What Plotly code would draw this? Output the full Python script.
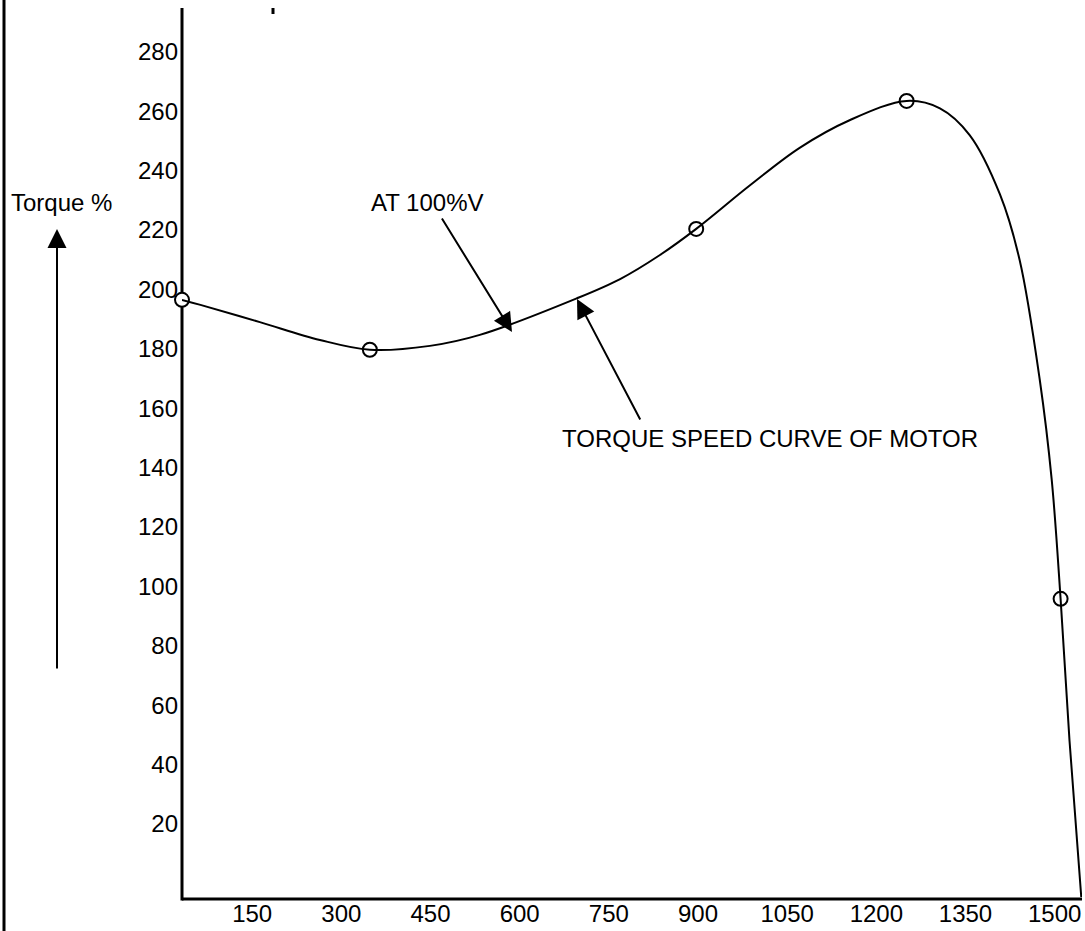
import plotly.graph_objects as go

# Curve trace (speed in RPM vs torque %)
speed = [32, 63, 163, 264, 348, 449, 533, 696, 769, 836, 897, 987, 1071, 1155,
         1251, 1307, 1357, 1408, 1441, 1475, 1495, 1510, 1525, 1545]
torque = [196.5, 194.8, 189.0, 183.0, 179.7, 181.0, 184.7, 197.0, 203.5, 211.6,
          220.4, 235.0, 247.7, 257.0, 263.5, 261.0, 252.0, 232.0, 210.0, 169.5,
          136.0, 95.8, 48.0, -5.3]

# Marked points
speed_pts = [32, 348, 897, 1251, 1510]
torque_pts = [196.5, 179.7, 220.4, 263.5, 95.8]

x_ticks = [150, 300, 450, 600, 750, 900, 1050, 1200, 1350, 1500]
x_labels = [str(v) for v in x_ticks]
y_ticks = [20, 40, 60, 80, 100, 120, 140, 160, 180, 200, 220, 240, 260, 280]
y_labels = [str(v) for v in y_ticks]

W, H = 1085, 931
L, R, T, B = 182, 3, 8, 34
PW, PH = W - L - R, H - T - B
AXIS_Y = 899  # pixel row of the drawn x-axis line


def px(xp):
    return (xp - L) / PW


def py(yp):
    return (H - B - yp) / PH


FONT = "Arial, Liberation Sans, sans-serif"

fig = go.Figure()
fig.add_trace(go.Scatter(
    x=speed_pts, y=torque_pts, mode="markers",
    marker=dict(symbol="circle", size=14, color="white",
                line=dict(color="black", width=2)),
    cliponaxis=False, hoverinfo="skip", showlegend=False))
fig.add_trace(go.Scatter(
    x=speed, y=torque, mode="lines",
    line=dict(color="black", width=2, shape="spline", smoothing=1.0),
    cliponaxis=False, hoverinfo="skip", showlegend=False))

fig.update_layout(
    width=W, height=H,
    margin=dict(l=L, r=R, t=T, b=B, pad=0, autoexpand=False),
    paper_bgcolor="white", plot_bgcolor="white",
    font=dict(family=FONT, size=24, color="black"),
    showlegend=False,
    xaxis=dict(range=[32, 1546], tickvals=x_ticks, ticktext=x_labels,
               showgrid=False, zeroline=False, showline=False,
               ticks="", automargin=False, tickfont=dict(size=24)),
    yaxis=dict(range=[-4.63, 294.8], tickvals=y_ticks, ticktext=y_labels,
               showgrid=False, zeroline=False, showline=False,
               ticks="", automargin=False, tickfont=dict(size=24),
               ticklabelstandoff=3),
)

# axis lines
fig.add_shape(type="line", xref="paper", yref="paper", layer="below",
              x0=0, x1=1, y0=py(AXIS_Y), y1=py(AXIS_Y),
              line=dict(color="black", width=3))
fig.add_shape(type="line", xref="paper", yref="paper", layer="below",
              x0=0, x1=0, y0=py(AXIS_Y + 1.5), y1=1,
              line=dict(color="black", width=3))
# left border line of the page
fig.add_shape(type="line", xref="paper", yref="paper",
              x0=px(4), x1=px(4), y0=py(931), y1=py(0),
              line=dict(color="black", width=3))
# small mark at the top (remnant of cut-off text)
fig.add_shape(type="line", xref="paper", yref="paper",
              x0=px(273), x1=px(273), y0=py(14), y1=py(8),
              line=dict(color="black", width=3))

# texts
fig.add_annotation(text="Torque %", xref="paper", yref="paper",
                   x=px(9), y=py(203), xanchor="left", yanchor="middle",
                   showarrow=False, font=dict(size=24))
fig.add_annotation(text="AT 100%V", xref="paper", yref="paper",
                   x=px(369), y=py(202), xanchor="left", yanchor="middle",
                   showarrow=False, font=dict(size=24))
fig.add_annotation(text="TORQUE SPEED CURVE OF MOTOR", xref="paper", yref="paper",
                   x=px(560), y=py(438), xanchor="left", yanchor="middle",
                   showarrow=False, font=dict(size=24))

# arrows (tip, tail) in pixels
arrows = [((57, 229), (57, 670)),
          ((512, 332), (441, 217)),
          ((577, 299), (641, 421))]
for (tx, ty), (sx, sy) in arrows:
    fig.add_annotation(text="", xref="paper", yref="paper",
                       x=px(tx), y=py(ty), ax=sx - tx, ay=sy - ty,
                       axref="pixel", ayref="pixel",
                       showarrow=True, arrowhead=2, arrowsize=1.9,
                       arrowwidth=2, arrowcolor="black", standoff=0)

fig.write_html("out.html", config={"displayModeBar": False},
               post_script="document.body.style.margin='0';")
